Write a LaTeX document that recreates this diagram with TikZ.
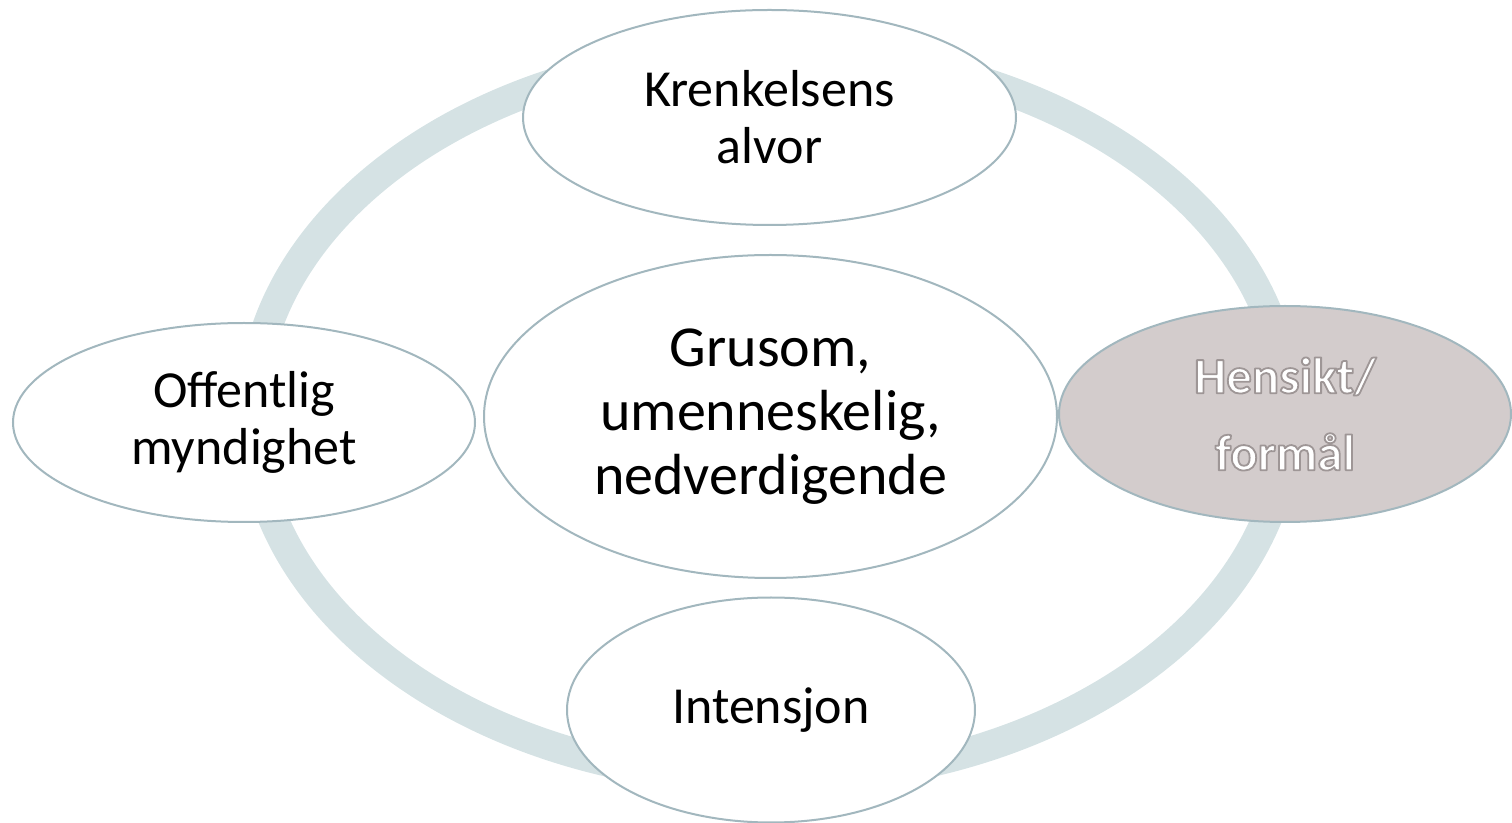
\documentclass[tikz,border=0pt]{standalone}
\usepackage{fontspec}
\setmainfont{Carlito}
\usetikzlibrary{shapes.geometric}
\definecolor{ringgrey}{HTML}{D5E2E4}
\definecolor{rimblue}{HTML}{A2B7BE}
\definecolor{hensiktfill}{HTML}{D3CCCC}
\newcommand{\glowtext}[1]{\special{pdf:literal direct 2 Tr 0.9 w 1 j 0.62 0.59 0.59 RG}#1\special{pdf:literal direct 0 Tr}}

\begin{document}
\begin{tikzpicture}[x=0.5pt, y=-0.5pt,
    bubble/.style={ellipse, draw=rimblue, line width=1pt, fill=white,
      inner sep=0pt, align=center, font=\fontsize{26}{28.5}\selectfont},
    ring/.style={draw=ringgrey, line width=15pt}]
      \useasboundingbox (0, 0) rectangle (1512, 823);
      \draw[ring] (770, 415) ellipse [x radius=518, y radius=365];

      \node (krenk) at (769.5, 117.5) [bubble, minimum width=246.5pt, minimum height=107.5pt] {Krenkelsens\\alvor};
      \node (offentlig) at (244, 422.5) [bubble, minimum width=231pt, minimum height=99.5pt] {Offentlig\\myndighet};
      \node (hensikt) at (1285, 414) [bubble, fill=hensiktfill, minimum width=226pt, minimum height=108pt,
        text=white, font=\fontsize{25.5}{38.5}\selectfont\bfseries]
        {\glowtext{Hensikt/}\\\glowtext{formål}};
      \node (intensjon) at (771, 710) [bubble, minimum width=204pt, minimum height=112.5pt] {Intensjon};

      \node (grusom) at (770.5, 416.5) [bubble, minimum width=286.5pt, minimum height=161.5pt,
        font=\fontsize{29}{32}\selectfont] {Grusom,\\umenneskelig,\\nedverdigende};
    \end{tikzpicture}
\end{document}
